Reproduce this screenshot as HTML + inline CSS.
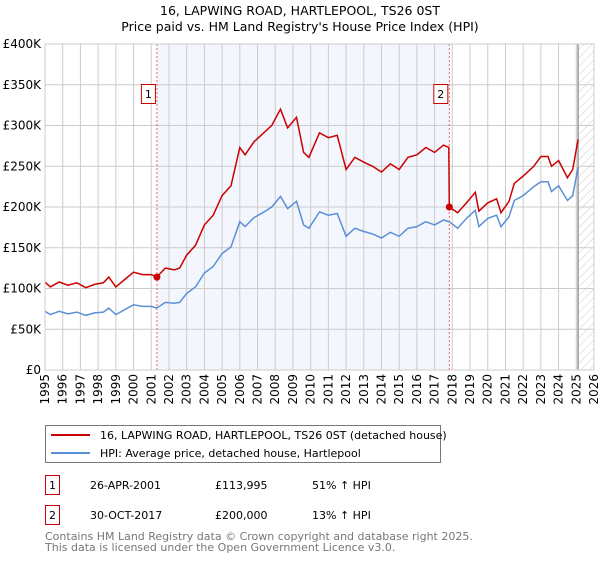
<!DOCTYPE html>
<html><head><meta charset="utf-8"><style>
body{margin:0;background:#fff;font-family:"DejaVu Sans","Liberation Sans",sans-serif;}
svg text{font-family:"DejaVu Sans","Liberation Sans",sans-serif;}
</style></head><body>
<svg id="c" width="600" height="560" xmlns="http://www.w3.org/2000/svg">
<defs><pattern id="hatch" width="6" height="6" patternUnits="userSpaceOnUse" patternTransform="rotate(45)"><line x1="0" y1="0" x2="0" y2="6" stroke="#ccc" stroke-width="1"/></pattern></defs>
<text x="300" y="15" text-anchor="middle" font-size="12.5">16, LAPWING ROAD, HARTLEPOOL, TS26 0ST</text>
<text x="300" y="31" text-anchor="middle" font-size="12.5">Price paid vs. HM Land Registry's House Price Index (HPI)</text>
<g id="plot"></g>
<rect x="45.5" y="425.5" width="395" height="37" fill="#fff" stroke="#777"/>
<line x1="51" y1="435" x2="90" y2="435" stroke="#cc0000" stroke-width="2"/>
<text x="100" y="439" font-size="11">16, LAPWING ROAD, HARTLEPOOL, TS26 0ST (detached house)</text>
<line x1="51" y1="453" x2="90" y2="453" stroke="#5b8fd6" stroke-width="2"/>
<text x="100" y="457" font-size="11">HPI: Average price, detached house, Hartlepool</text>
<g font-size="11">
<rect x="45.5" y="475.5" width="14" height="19" fill="#fff" stroke="#cc0000"/>
<text x="52.5" y="489" text-anchor="middle">1</text>
<text x="90" y="489">26-APR-2001</text><text x="215" y="489">£113,995</text><text x="312" y="489">51% ↑ HPI</text>
</g>
<g font-size="11">
<rect x="45.5" y="505.5" width="14" height="19" fill="#fff" stroke="#cc0000"/>
<text x="52.5" y="519" text-anchor="middle">2</text>
<text x="90" y="519">30-OCT-2017</text><text x="215" y="519">£200,000</text><text x="312" y="519">13% ↑ HPI</text>
</g>
<text x="45" y="540" font-size="11" fill="#777">Contains HM Land Registry data © Crown copyright and database right 2025.</text>
<text x="45" y="551" font-size="11" fill="#777">This data is licensed under the Open Government Licence v3.0.</text>
</svg>
<script>
const times=[1995.0,1995.3,1995.8,1996.3,1996.8,1997.3,1997.8,1998.3,1998.6,1999.0,1999.5,2000.0,2000.5,2001.0,2001.3,2001.8,2002.3,2002.6,2003.0,2003.5,2004.0,2004.5,2005.0,2005.5,2006.0,2006.3,2006.8,2007.3,2007.8,2008.3,2008.7,2009.2,2009.6,2009.9,2010.5,2011.0,2011.5,2012.0,2012.5,2013.0,2013.5,2014.0,2014.5,2015.0,2015.5,2016.0,2016.5,2017.0,2017.5,2017.8,2017.83,2018.3,2018.8,2019.3,2019.5,2020.0,2020.5,2020.75,2021.2,2021.5,2022.0,2022.6,2023.0,2023.4,2023.6,2024.0,2024.5,2024.8,2025.1];
const hpiValues=[72,68,72,69,71,67,70,71,76,68,74,80,78,78,76,83,82,83,94,102,119,127,143,151,182,176,187,193,200,213,198,207,178,174,194,190,192,164,174,170,167,162,169,164,174,176,182,178,184,182,182,174,186,196,176,186,190,176,188,208,214,225,231,231,219,226,208,214,249];
const priceValues=[108,102,108,104,107,101,105,107,114,102,111,120,117,117,114,125,123,125,141,153,178,190,214,226,273,264,280,290,300,320,297,310,267,261,291,285,288,246,261,255,250,243,253,246,261,264,273,267,276,273,200,193,205,218,195,205,210,193,207,229,238,250,262,262,250,257,236,246,283];
const saleTimes=[2001.32,2017.83];
const salePrices=[114,200];
const saleLabels=["1","2"];
const yTicks=[0,50,100,150,200,250,300,350,400];
const yTickLabels=["£0","£50K","£100K","£150K","£200K","£250K","£300K","£350K","£400K"];
const xYears=[1995,1996,1997,1998,1999,2000,2001,2002,2003,2004,2005,2006,2007,2008,2009,2010,2011,2012,2013,2014,2015,2016,2017,2018,2019,2020,2021,2022,2023,2024,2025,2026];

const L=45,R=594,T=44,B=370;
const x=t=>L+(t-1995)/31*(R-L);
const y=v=>B-v/400*(B-T);
const g=document.getElementById('plot');
const NS='http://www.w3.org/2000/svg';
function mk(tag,attrs,parent){const e=document.createElementNS(NS,tag);for(const k in attrs)e.setAttribute(k,attrs[k]);(parent||g).appendChild(e);return e;}
mk('rect',{x:x(saleTimes[0]),y:T,width:x(saleTimes[1])-x(saleTimes[0]),height:B-T,fill:'#f3f6fd'});
mk('rect',{x:x(2025.1),y:T,width:R-x(2025.1),height:B-T,fill:'url(#hatch)'});
yTicks.forEach((v,i)=>{
 const ln=mk('line',{x1:L,x2:R,y1:y(v),y2:y(v),stroke:'#ccc'});
 
 
 const tx=mk('text',{x:L-4,y:y(v)+4,'text-anchor':'end','font-size':12});
 
 
 tx.textContent=yTickLabels[i];
});
xYears.forEach(yr=>{
 const ln=mk('line',{x1:x(yr),x2:x(yr),y1:T,y2:B,stroke:'#ccc'});
 
 
 const tx=mk('text',{x:0,y:0,'text-anchor':'end','font-size':12,transform:`translate(${x(yr)+4},374) rotate(-90)`});
 
 
 tx.textContent=yr;
});
mk('line',{x1:x(2025.1),x2:x(2025.1),y1:T,y2:B,stroke:'#999','stroke-width':1.5});
saleTimes.forEach(t=>{
 const ln=mk('line',{x1:x(t),x2:x(t),y1:T,y2:B,stroke:'#f06060','stroke-dasharray':'2,2'});
 
 
});
const pts=a=>times.map((t,i)=>x(t).toFixed(1)+','+y(a[i]).toFixed(1)).join(' ');
const hl=mk('polyline',{points:pts(hpiValues),fill:'none',stroke:'#5b8fd6','stroke-width':1.5});


const pl=mk('polyline',{points:pts(priceValues),fill:'none',stroke:'#cc0000','stroke-width':1.5});


saleTimes.forEach((t,i)=>{
 const c=mk('circle',{cx:x(t),cy:y(salePrices[i]),r:3.5,fill:'#cc0000'});
 
 
 const bx=mk('rect',{x:x(t)-15.5,y:84.5,width:14,height:19,fill:'#fff',stroke:'#cc0000'});
 
 
 const tx=mk('text',{x:x(t)-8.5,y:98,'text-anchor':'middle','font-size':11});
 
 
 tx.textContent=saleLabels[i];
});
mk('rect',{x:L,y:T,width:R-L,height:B-T,fill:'none',stroke:'#ccc'});
</script>
</body></html>
